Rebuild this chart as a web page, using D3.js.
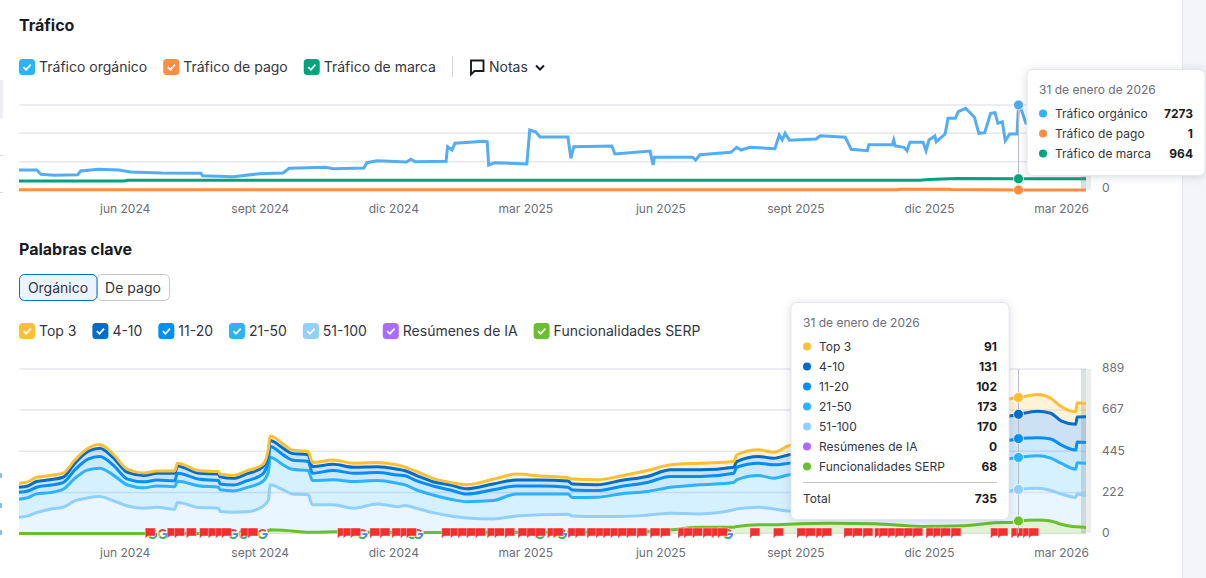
<!DOCTYPE html>
<html lang="es">
<head>
<meta charset="utf-8">
<title>Tráfico y palabras clave</title>
<script src="https://cdn.jsdelivr.net/npm/d3@7"></script>
<style>
html, body { margin: 0; padding: 0; background: #fff; overflow: hidden; }
svg { display: block; font-family: Inter, "Noto Sans", sans-serif; }
.axis .domain, .axis line { display: none; }
.axis text { fill: #6c6e79; font-size: 12px; font-family: Inter, "Noto Sans", sans-serif; }
</style>
</head>
<body>
<svg id="chart" width="1206" height="578"></svg>
<script>
// ---- traffic chart
const organicDates = ['2024-03-21','2024-04-02','2024-04-05','2024-04-14','2024-04-30','2024-05-02','2024-05-14','2024-05-28','2024-06-05','2024-06-26','2024-07-23','2024-07-24','2024-08-14','2024-09-01','2024-09-17','2024-09-21','2024-10-16','2024-10-21','2024-11-11','2024-11-13','2024-11-20','2024-12-10','2024-12-13','2024-12-16','2025-01-06','2025-01-07','2025-01-10','2025-01-12','2025-02-01','2025-02-03','2025-02-04','2025-02-08','2025-03-02','2025-03-04','2025-03-08','2025-03-11','2025-03-30','2025-04-01','2025-04-03','2025-04-21','2025-04-29','2025-05-01','2025-05-25','2025-05-27','2025-05-28','2025-06-23','2025-06-25','2025-06-28','2025-07-19','2025-07-23','2025-07-26','2025-08-01','2025-08-18','2025-08-21','2025-08-23','2025-08-25','2025-08-28','2025-09-15','2025-09-18','2025-10-05','2025-10-09','2025-10-20','2025-10-21','2025-11-06','2025-11-07','2025-11-08','2025-11-14','2025-11-16','2025-11-18','2025-11-27','2025-11-29','2025-12-01','2025-12-05','2025-12-06','2025-12-12','2025-12-14','2025-12-19','2025-12-21','2025-12-26','2026-01-01','2026-01-04','2026-01-08','2026-01-12','2026-01-15','2026-01-17','2026-01-20','2026-01-22','2026-01-25','2026-01-30','2026-01-31','2026-02-02','2026-02-05','2026-02-20','2026-03-18']
const organicValues = [1711,1711,1343,1258,1309,1626,1771,1711,1540,1455,1429,1224,1138,1395,1455,1857,1942,1822,1882,2336,2507,2396,2627,2421,2456,3705,3422,3996,4167,4133,2139,2336,2225,5134,4988,4535,4535,2712,3705,3739,3765,3080,3337,2139,2798,2798,2567,3020,3226,3653,3422,3653,3534,4706,4278,4851,4252,4364,4646,4509,3482,3363,3876,3876,4278,3765,3653,3363,4081,4081,3363,4278,4620,4133,4791,6135,6135,6699,6990,6220,4851,4903,6562,6614,5707,5844,4218,4791,4791,7273,6845,5733,5600,5600]

const brandDates = ['2024-03-21','2024-06-01','2024-06-03','2025-11-25','2025-12-01','2025-12-20','2026-01-31','2026-03-18']
const brandValues = [770,770,830,830,900,985,964,960]

const paidDates = ['2024-03-21','2025-11-10','2025-11-11','2025-12-15','2025-12-16','2026-01-31','2026-03-18']
const paidValues = [30,30,70,70,40,1,1]

const trafficGrid = [0,2424,4849,7273]
const trafficLegend = ['Tráfico orgánico','Tráfico de pago','Tráfico de marca']
const trafficColors = ['#2bb3ff','#ff8c43','#00a47c']
const trafficTip = [7273,1,964]

// ---- keywords chart
const kwDates = ['2024-03-21','2024-03-27','2024-04-02','2024-04-11','2024-04-20','2024-04-28','2024-05-07','2024-05-15','2024-05-24','2024-06-03','2024-06-14','2024-06-23','2024-07-05','2024-07-07','2024-07-22','2024-08-04','2024-08-05','2024-08-14','2024-08-23','2024-09-03','2024-09-07','2024-09-08','2024-09-17','2024-09-23','2024-10-04','2024-10-07','2024-10-21','2024-11-04','2024-11-20','2024-12-04','2024-12-09','2024-12-17','2024-12-28','2025-01-09','2025-01-20','2025-02-07','2025-02-23','2025-03-11','2025-03-30','2025-04-02','2025-04-19','2025-05-05','2025-05-23','2025-06-08','2025-06-28','2025-07-21','2025-07-23','2025-08-07','2025-08-17','2025-08-27','2025-09-25','2025-10-25','2025-11-25','2025-12-25','2026-01-15','2026-01-26','2026-01-31','2026-02-13','2026-02-22','2026-03-01','2026-03-11','2026-03-12','2026-03-18']
const serp =    [0,0,0,0,0,0,0,0,0,0,0,0,0,0,0,0,0,0,0,0,16,20,18,14,7,7,9,11,5,5,5,5,5,5,5,7,7,7,7,7,7,7,11,20,34,34,38,47,47,50,55,53,38,42,58,60,68,73,68,50,37,37,33]
const kw51 =    [88,95,113,131,142,176,193,200,178,149,137,142,131,167,140,137,119,115,117,146,166,243,218,200,202,148,146,126,155,140,146,131,108,90,79,72,88,94,97,88,85,85,88,90,72,94,95,95,86,72,85,100,120,135,160,171,170,171,164,164,158,176,171]
const kw21 =    [97,99,101,90,97,122,151,153,139,113,110,115,122,115,117,113,117,115,131,135,153,149,135,133,131,131,135,144,126,126,112,99,95,90,88,99,119,113,110,99,104,122,128,140,157,148,157,171,166,194,195,190,180,175,175,175,173,176,175,166,153,169,175]
const kw11 =    [38,36,36,40,36,45,58,63,54,32,32,32,32,43,36,36,32,32,36,40,63,58,54,50,49,40,50,45,43,45,49,49,49,50,41,58,43,43,36,41,36,40,49,58,45,50,68,67,72,63,70,85,95,98,100,99,102,97,104,99,103,113,113]
const kw4 =     [27,27,31,29,29,36,41,45,41,36,34,36,40,40,32,36,38,36,38,38,45,32,36,36,36,36,34,32,32,31,27,29,23,27,29,32,32,32,34,32,31,32,32,36,36,32,31,36,36,45,60,75,100,120,130,131,131,144,139,130,139,135,139]
const top3 =    [22,22,23,23,22,18,18,20,18,16,14,13,13,14,14,13,14,16,16,13,18,25,22,18,18,22,23,22,23,23,20,22,18,14,22,25,32,22,18,27,27,25,32,27,36,31,36,36,32,49,55,57,67,80,90,94,91,90,81,77,68,77,70]

const kwTicks = [0,222,445,667,889]
const kwLegend = ['Top 3','4-10','11-20','21-50','51-100','Resúmenes de IA','Funcionalidades SERP']
const kwColors = ['#ffbf35','#006dca','#008ff8','#2bb3ff','#8fd0ff','#ab6cfe','#6abf2f']
const kwTip = [91,131,102,173,170,0,68]
const kwTipTotal = 735

const flagDates = ['2024-06-15','2024-06-30','2024-07-05','2024-07-13','2024-07-22','2024-07-28','2024-08-02','2024-08-06','2024-08-19','2024-08-24','2024-10-24','2024-10-28','2024-11-02','2024-11-15','2024-11-22','2024-11-30','2024-12-06','2024-12-10','2025-01-03','2025-01-09','2025-01-14','2025-01-20','2025-01-26','2025-02-03','2025-02-08','2025-02-15','2025-02-24','2025-03-02','2025-03-08','2025-03-16','2025-03-20','2025-03-30','2025-04-04','2025-04-12','2025-04-18','2025-04-23','2025-04-28','2025-05-03','2025-05-09','2025-05-16','2025-05-25','2025-06-01','2025-06-13','2025-06-17','2025-06-23','2025-06-30','2025-07-06','2025-07-10','2025-08-01','2025-08-17','2025-09-02','2025-09-08','2025-09-15','2025-09-19','2025-10-04','2025-10-10','2025-10-17','2025-10-25','2025-10-28','2025-11-03','2025-11-08','2025-11-14','2025-11-20','2025-11-29','2025-12-04','2025-12-09','2025-12-16','2026-01-12','2026-01-17','2026-01-26','2026-01-30','2026-02-03','2026-02-07']
const googleDates = ['2024-06-20','2024-06-27','2024-08-14','2024-08-21','2024-09-03','2024-11-10','2024-12-14','2024-12-18','2025-03-11','2025-03-26','2025-07-17']

const xTicks = ['2024-06-01','2024-09-01','2024-12-01','2025-03-01','2025-06-01','2025-09-01','2025-12-01','2026-03-01']
const xLabels = ['jun 2024','sept 2024','dic 2024','mar 2025','jun 2025','sept 2025','dic 2025','mar 2026']

const hoverDate = '2026-01-31'
const tipDate = '31 de enero de 2026'

const parse = d3.utcParse('%Y-%m-%d')
const svg = d3.select('#chart')

let left = 19, right = 1086
let x = d3.scaleUtc().domain([parse('2024-03-21'), parse('2026-03-18')]).range([left, right])
let yT = d3.scaleLinear().domain([0, 7273]).range([190, 105])
let yK = d3.scaleLinear().domain([0, 889]).range([533.5, 369])

// page bits around the chart
svg.append('rect').attr('x', 1182).attr('y', 0).attr('width', 24).attr('height', 578).attr('fill', '#f4f5f9')
svg.append('rect').attr('x', 1182).attr('y', 0).attr('width', 1).attr('height', 578).attr('fill', '#e6e7ef')
svg.append('rect').attr('x', 0).attr('y', 80).attr('width', 3).attr('height', 38).attr('fill', '#ededf4')
svg.selectAll('.sideLine').data([155, 192]).enter().append('rect')
	.attr('x', 0).attr('y', d => d).attr('width', 3).attr('height', 1).attr('fill', '#dcdde3')
svg.selectAll('.sideMark').data([473, 503, 530]).enter().append('rect')
	.attr('x', 0).attr('y', d => d).attr('width', 2).attr('height', 5).attr('fill', '#8cbde6')

// titles
const title = (txt, y) => svg.append('text').attr('x', 19).attr('y', y).text(txt)
	.attr('font-size', 16).attr('font-weight', 700).attr('fill', '#191b23')
title('Tráfico', 31)
title('Palabras clave', 255)

const checkbox = (g, px, py, color) => {
	g.append('rect').attr('x', px).attr('y', py).attr('width', 16).attr('height', 16).attr('rx', 3.5).attr('fill', color)
	g.append('path').attr('d', `M${px + 4.5},${py + 8.2} l2.6,2.6 l4.6,-5.2`)
		.attr('fill', 'none').attr('stroke', '#fff').attr('stroke-width', 1.8)
}

const legend = (names, colors, y, gap) => {
	let cx = left
	names.forEach((name, i) => {
		let g = svg.append('g')
		checkbox(g, cx, y - 8, colors[i])
		let t = g.append('text').attr('x', cx + 20).attr('y', y + 5).text(name)
			.attr('font-size', 14).attr('fill', '#333540')
		cx += 20 + t.node().getComputedTextLength() + gap
	})
}

legend(trafficLegend, trafficColors, 67, 16)
legend(kwLegend, kwColors, 331, 15.9)

// notas
svg.append('rect').attr('x', 452).attr('y', 56).attr('width', 1).attr('height', 21).attr('fill', '#d1d4db')
svg.append('path').attr('d', 'M471,60.5 H483.5 V71 H474.5 L471,74.5 Z')
	.attr('fill', 'none').attr('stroke', '#191b23').attr('stroke-width', 1.9)
svg.append('text').attr('x', 489).attr('y', 72).text('Notas').attr('font-size', 14).attr('fill', '#333540')
svg.append('path').attr('d', 'M536,65.5 l4,4 l4,-4').attr('fill', 'none').attr('stroke', '#191b23').attr('stroke-width', 2)

// orgánico / de pago switch
svg.append('rect').attr('x', 97).attr('y', 274.5).attr('width', 72.5).attr('height', 26).attr('rx', 5)
	.attr('fill', '#fff').attr('stroke', '#c4c7cf')
svg.append('rect').attr('x', 19.5).attr('y', 274.5).attr('width', 77.5).attr('height', 26).attr('rx', 5)
	.attr('fill', '#e9f4ff').attr('stroke', '#006dca')
svg.append('text').attr('x', 58).attr('y', 293).text('Orgánico').attr('text-anchor', 'middle').attr('font-size', 14).attr('fill', '#333540')
svg.append('text').attr('x', 133).attr('y', 293).text('De pago').attr('text-anchor', 'middle').attr('font-size', 14).attr('fill', '#333540')

// grids
const grid = (vals, sc) => svg.append('g').selectAll('line').data(vals).enter().append('line')
	.attr('x1', left).attr('x2', right)
	.attr('y1', d => sc(d)).attr('y2', d => sc(d))
	.attr('stroke', '#e6e7ef').attr('stroke-width', 1.5)
grid(trafficGrid, yT)
grid(kwTicks, yK)

// x axes
const xAxis = d3.axisBottom(x)
	.tickValues(xTicks.map(parse))
	.tickFormat((d, i) => xLabels[i])
	.tickSize(0)
	.tickPadding(0)
svg.append('g').attr('class', 'axis').attr('transform', 'translate(0,204)').call(xAxis)
svg.append('g').attr('class', 'axis').attr('transform', 'translate(0,548)').call(xAxis)

// y axes
svg.append('g').attr('class', 'axis').attr('transform', 'translate(1102,0)')
	.call(d3.axisRight(yT).tickValues([0]).tickSize(0).tickPadding(0))
	.selectAll('text').attr('dy', '0.16em')
svg.append('g').attr('class', 'axis').attr('transform', 'translate(1102,0)')
	.call(d3.axisRight(yK).tickValues(kwTicks).tickSize(0).tickPadding(0))
	.selectAll('text').attr('dy', '0.24em')

// stacked keywords
const table = kwDates.map((d, i) => ({
	date: parse(d), serp: serp[i], kw51: kw51[i], kw21: kw21[i], kw11: kw11[i], kw4: kw4[i], top3: top3[i]
}))
const keys = ['serp', 'kw51', 'kw21', 'kw11', 'kw4', 'top3']
const keyColor = { serp: kwColors[6], kw51: kwColors[4], kw21: kwColors[3], kw11: kwColors[2], kw4: kwColors[1], top3: kwColors[0] }
const stacked = d3.stack().keys(keys)(table)

const area = d3.area().x(d => x(d.data.date)).y0(d => yK(d[0])).y1(d => yK(d[1])).curve(d3.curveMonotoneX)
const line = d3.line().x(d => x(d.data.date)).y(d => yK(d[1])).curve(d3.curveMonotoneX)

svg.append('g').selectAll('path').data(stacked).enter().append('path')
	.attr('d', area).attr('fill', d => keyColor[d.key]).attr('fill-opacity', 0.2)

// incomplete data band at the right end
const endBand = (y0, y1) => {
	svg.append('rect').attr('x', right - 5).attr('y', y0).attr('width', 5).attr('height', y1 - y0).attr('fill', '#5f7475').attr('opacity', 0.22)
	svg.append('rect').attr('x', right).attr('y', y0).attr('width', 5).attr('height', y1 - y0).attr('fill', '#5f7475').attr('opacity', 0.12)
}
endBand(105, 190)
endBand(369, 533)

svg.append('g').selectAll('path').data(stacked).enter().append('path')
	.attr('d', line).attr('fill', 'none').attr('stroke', d => keyColor[d.key]).attr('stroke-width', 3)

// traffic lines
const tLine = d3.line().x(d => x(d[0])).y(d => yT(d[1]))
const series = (dates, vals) => dates.map((d, i) => [parse(d), vals[i]])
const drawT = (dates, vals, color) => svg.append('path').attr('d', tLine(series(dates, vals)))
	.attr('fill', 'none').attr('stroke', color).attr('stroke-width', 3)
drawT(organicDates, organicValues, '#54adf3')
drawT(paidDates, paidValues, '#ff8c43')
drawT(brandDates, brandValues, '#00a47c')

// google marks sit under the flags
const gArc = d3.arc().innerRadius(3.1).outerRadius(5.1)
const gParts = [[1.5, 2.4, '#4285f4'], [2.4, 4.0, '#34a853'], [4.0, 5.2, '#fbbc05'], [5.2, 7.1, '#ea4335']]
googleDates.forEach(d => {
	let g = svg.append('g').attr('transform', `translate(${x(parse(d))},534)`)
	g.append('circle').attr('r', 5.6).attr('fill', '#fff')
	gParts.forEach(p => g.append('path').attr('d', gArc({ startAngle: p[0], endAngle: p[1] })).attr('fill', p[2]))
	g.append('rect').attr('x', 0).attr('y', -0.9).attr('width', 5).attr('height', 1.9).attr('fill', '#4285f4')
})

const flags = svg.append('g')
flags.selectAll('path').data(flagDates).enter().append('path')
	.attr('transform', d => `translate(${x(parse(d))},528)`)
	.attr('d', 'M0,0 H10 V8 H2.5 L0,10.5 Z')
	.attr('fill', '#f32e2e').attr('stroke', '#fff').attr('stroke-width', 0.4)

// crosshair
const hx = x(parse(hoverDate))
const cross = (y0, y1) => svg.append('line').attr('x1', hx).attr('x2', hx).attr('y1', y0).attr('y2', y1)
	.attr('stroke', '#b9bcc6').attr('stroke-width', 1)
cross(105, 190)
cross(369, 533)

const dot = (cy, color) => svg.append('circle').attr('cx', hx).attr('cy', cy).attr('r', 5).attr('fill', color)
	.attr('stroke', '#fff').attr('stroke-width', 0.8)
dot(yT(trafficTip[0]), '#54a9ec')
dot(yT(trafficTip[2]), trafficColors[2])
dot(yT(trafficTip[1]), trafficColors[1])

const row = table.find(d => +d.date === +parse(hoverDate))
stacked.forEach(s => {
	let p = s.find(d => d.data === row)
	dot(yK(p[1]), keyColor[s.key])
})

// tooltips
const tooltip = (bx, by, bw, bh, names, colors, vals) => {
	let g = svg.append('g')
	g.append('rect').attr('x', bx).attr('y', by).attr('width', bw).attr('height', bh).attr('rx', 6)
		.attr('fill', '#fff').attr('stroke', '#e6e7ef')
		.style('filter', 'drop-shadow(0 1px 5px rgba(60,65,90,0.18))')
	g.append('text').attr('x', bx + 12).attr('y', by + 24).text(tipDate).attr('font-size', 12).attr('fill', '#6c6e79')
	names.forEach((name, i) => {
		let cy = by + 44 + i * 20
		g.append('circle').attr('cx', bx + 16).attr('cy', cy).attr('r', 4).attr('fill', colors[i])
		g.append('text').attr('x', bx + 28).attr('y', cy + 4.3).text(name).attr('font-size', 12).attr('fill', '#333540')
		g.append('text').attr('x', bx + bw - 12).attr('y', cy + 4.3).text(vals[i]).attr('text-anchor', 'end')
			.attr('font-size', 12).attr('font-weight', 700).attr('fill', '#191b23')
	})
	return g
}

tooltip(1027, 69.5, 178, 106, trafficLegend, trafficColors, trafficTip)
let kwTipG = tooltip(791, 302.5, 218, 217, kwLegend, kwColors, kwTip)
kwTipG.append('line').attr('x1', 803).attr('x2', 997).attr('y1', 482.5).attr('y2', 482.5).attr('stroke', '#c4c7cf')
kwTipG.append('text').attr('x', 803).attr('y', 503).text('Total').attr('font-size', 12).attr('fill', '#333540')
kwTipG.append('text').attr('x', 997).attr('y', 503).text(kwTipTotal).attr('text-anchor', 'end')
	.attr('font-size', 12).attr('font-weight', 700).attr('fill', '#191b23')
</script>
</body>
</html>
